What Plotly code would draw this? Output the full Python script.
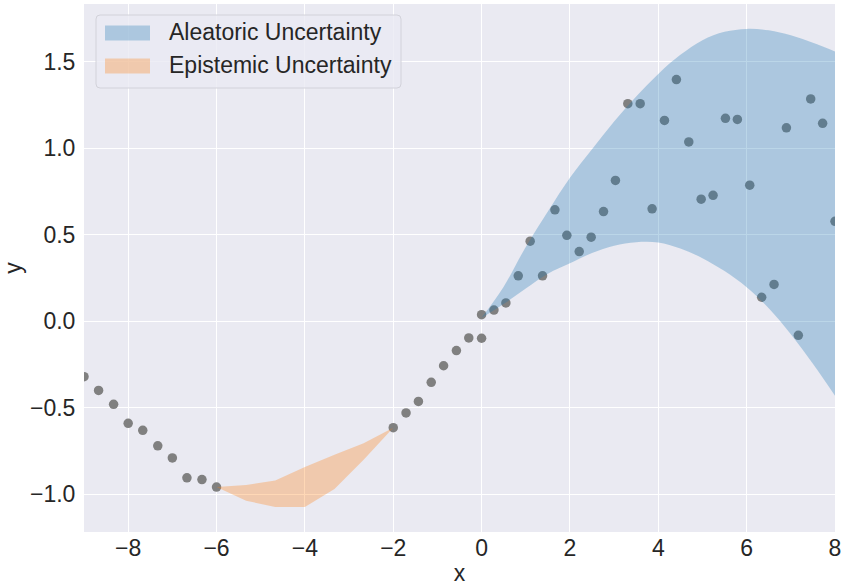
import plotly.graph_objects as go

# Observed samples: left segment, middle segment, right (noisy) segment
x_left = [-9.0, -8.67, -8.33, -8.0, -7.67, -7.33, -7.0, -6.67, -6.33, -6.0]
y_left = [-0.32, -0.40, -0.48, -0.59, -0.63, -0.72, -0.79, -0.905, -0.915, -0.958]

x_mid = [-2.0, -1.71, -1.43, -1.14, -0.86, -0.57, -0.29, 0.0]
y_mid = [-0.615, -0.53, -0.463, -0.353, -0.257, -0.169, -0.096, -0.098]

x_right = [0.0, 0.28, 0.55, 0.83, 1.10, 1.38, 1.66, 1.93, 2.21, 2.48,
           2.76, 3.03, 3.31, 3.59, 3.86, 4.14, 4.41, 4.69, 4.97, 5.24,
           5.52, 5.79, 6.07, 6.34, 6.62, 6.90, 7.17, 7.45, 7.72, 8.0]
y_right = [0.038, 0.065, 0.106, 0.263, 0.463, 0.263, 0.644, 0.497, 0.403, 0.486,
           0.634, 0.814, 1.258, 1.258, 0.650, 1.161, 1.397, 1.037, 0.706, 0.728,
           1.173, 1.167, 0.787, 0.139, 0.213, 1.118, -0.081, 1.285, 1.144, 0.578]

# Aleatoric band (upper / lower bound) over the noisy region
x_alea = [0.0, 0.5, 1.0, 1.5, 2.0, 2.5, 3.0, 3.5, 4.0, 4.5, 5.0, 5.5, 6.0, 6.5, 7.0, 7.5, 8.0]
alea_upper = [0.02, 0.20, 0.43, 0.635, 0.83, 0.995, 1.155, 1.30, 1.43, 1.54, 1.625, 1.673, 1.69, 1.682, 1.653, 1.61, 1.56]
alea_lower = [0.02, 0.10, 0.19, 0.275, 0.335, 0.395, 0.437, 0.457, 0.455, 0.42, 0.365, 0.29, 0.197, 0.075, -0.075, -0.245, -0.43]

# Epistemic band over the data gap
x_epi = [-6.0, -5.33, -4.67, -4.0, -3.33, -2.67, -2.0]
epi_upper = [-0.958, -0.947, -0.92, -0.843, -0.772, -0.705, -0.615]
epi_lower = [-0.958, -1.037, -1.074, -1.074, -0.97, -0.80, -0.615]

x_ticks = [-8, -6, -4, -2, 0, 2, 4, 6, 8]
y_ticks = [-1.0, -0.5, 0.0, 0.5, 1.0, 1.5]

legend_labels = ["Aleatoric Uncertainty", "Epistemic Uncertainty"]
legend_colors = ["rgba(31,119,180,0.3)", "rgba(255,127,14,0.3)"]

FONT = "Liberation Sans, Arial, sans-serif"
TEXT = "#262626"
FS = 23

# Plot-area geometry in pixels (figure is 845 x 586)
W, H = 845, 586
ML, MR, MT, MB = 84, 10, 4, 54
PW, PH = W - ML - MR, H - MT - MB


def px_x(px):
    return (px - ML) / PW


def px_y(py):
    return (H - MB - py) / PH


fig = go.Figure()

fig.add_trace(go.Scatter(
    x=x_left + x_mid + x_right,
    y=y_left + y_mid + y_right,
    mode="markers",
    marker=dict(color="#808080", size=9.5, line=dict(width=0)),
    showlegend=False,
    hoverinfo="skip",
))

# aleatoric band: lower bound, then upper bound filled down to it
fig.add_trace(go.Scatter(
    x=x_alea, y=alea_lower, mode="lines",
    line=dict(width=0, shape="spline", smoothing=1.0, color="rgba(31,119,180,0)"),
    showlegend=False, hoverinfo="skip",
))
fig.add_trace(go.Scatter(
    x=x_alea, y=alea_upper, mode="lines",
    fill="tonexty", fillcolor=legend_colors[0],
    line=dict(width=0, shape="spline", smoothing=1.0, color="rgba(31,119,180,0)"),
    name=legend_labels[0], showlegend=False, hoverinfo="skip",
))

fig.add_trace(go.Scatter(
    x=x_epi + x_epi[::-1],
    y=epi_upper + epi_lower[::-1],
    mode="lines",
    fill="toself",
    fillcolor=legend_colors[1],
    line=dict(width=0, color="rgba(255,127,14,0)"),
    name=legend_labels[1], showlegend=False, hoverinfo="skip",
))

axis_common = dict(
    showgrid=True, gridcolor="white", gridwidth=1.4,
    zeroline=False, showline=False,
    tickcolor="rgba(0,0,0,0)",
    tickfont=dict(family=FONT, size=FS, color=TEXT),
    automargin=False,
)

fig.update_xaxes(
    range=[-9, 8], tickvals=x_ticks, ticks="", ticklen=0,
    title=dict(text="x", font=dict(family=FONT, size=FS, color=TEXT), standoff=9),
    **axis_common,
)
fig.update_yaxes(
    range=[-1.218, 1.834], tickvals=y_ticks, tickformat=".1f",
    ticks="outside", ticklen=3,
    title=dict(text="y", font=dict(family=FONT, size=FS, color=TEXT), standoff=9),
    **axis_common,
)

# legend frame (rounded corners) with patches and labels
x0, x1, y0, y1, r = px_x(96), px_x(401), px_y(15), px_y(88), 4
rx, ry = r / PW, r / PH
frame = (f"M {x0+rx},{y0} L {x1-rx},{y0} Q {x1},{y0} {x1},{y0-ry} "
         f"L {x1},{y1+ry} Q {x1},{y1} {x1-rx},{y1} "
         f"L {x0+rx},{y1} Q {x0},{y1} {x0},{y1+ry} "
         f"L {x0},{y0-ry} Q {x0},{y0} {x0+rx},{y0} Z")
shapes = [dict(type="path", xref="paper", yref="paper", path=frame,
               fillcolor="rgba(234,234,242,0.8)",
               line=dict(color="#D2D2DA", width=1), layer="above")]
annotations = []
row_centers = [33, 66]
for label, color, cy in zip(legend_labels, legend_colors, row_centers):
    shapes.append(dict(type="rect", xref="paper", yref="paper",
                       x0=px_x(105), x1=px_x(150), y0=px_y(cy - 7.5), y1=px_y(cy + 7.5),
                       fillcolor=color, line=dict(width=0), layer="above"))
    annotations.append(dict(text=label, xref="paper", yref="paper",
                            x=px_x(167), y=px_y(cy - 0.5), xanchor="left", yanchor="middle",
                            showarrow=False, font=dict(family=FONT, size=FS, color=TEXT)))

fig.update_layout(
    width=W, height=H,
    margin=dict(l=ML, r=MR, t=MT, b=MB),
    plot_bgcolor="#EAEAF2",
    paper_bgcolor="white",
    font=dict(family=FONT, size=FS, color=TEXT),
    showlegend=False,
    shapes=shapes,
    annotations=annotations,
)

fig.write_html("out.html")
